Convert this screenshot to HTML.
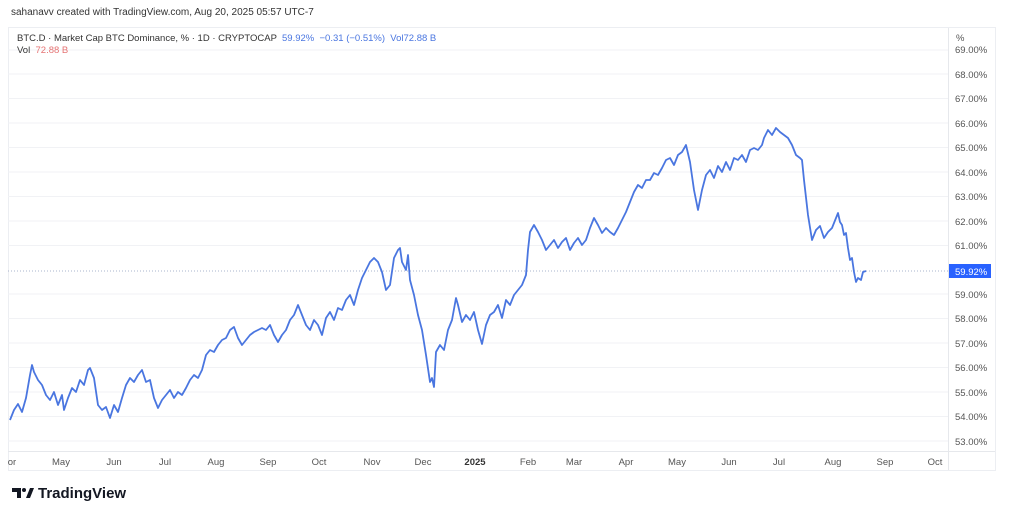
<!DOCTYPE html>
<html><head><meta charset="utf-8"><style>
body{margin:0;width:1024px;height:509px;background:#fff;font-family:"Liberation Sans",sans-serif;overflow:hidden;position:relative}
.t{position:absolute;white-space:nowrap}
</style></head><body>
<div class="t" style="left:11px;top:7px;font-size:10px;color:#333">sahanavv created with TradingView.com, Aug 20, 2025 05:57 UTC-7</div>
<svg width="1024" height="509" style="position:absolute;left:0;top:0">
<rect x="8.5" y="27.5" width="987" height="443" fill="none" stroke="#eceef2"/>
<line x1="948.5" y1="28" x2="948.5" y2="470" stroke="#e6e8ec"/>
<line x1="8" y1="451.5" x2="995" y2="451.5" stroke="#e6e8ec"/>
<g stroke="#f1f2f5">
<line x1="8" x2="948" y1="50" y2="50"/><line x1="8" x2="948" y1="74" y2="74"/><line x1="8" x2="948" y1="98.5" y2="98.5"/><line x1="8" x2="948" y1="123" y2="123"/><line x1="8" x2="948" y1="147.5" y2="147.5"/><line x1="8" x2="948" y1="172" y2="172"/><line x1="8" x2="948" y1="196.5" y2="196.5"/><line x1="8" x2="948" y1="221" y2="221"/><line x1="8" x2="948" y1="245.5" y2="245.5"/><line x1="8" x2="948" y1="294" y2="294"/><line x1="8" x2="948" y1="318.5" y2="318.5"/><line x1="8" x2="948" y1="343" y2="343"/><line x1="8" x2="948" y1="367.5" y2="367.5"/><line x1="8" x2="948" y1="392" y2="392"/><line x1="8" x2="948" y1="416.5" y2="416.5"/><line x1="8" x2="948" y1="441" y2="441"/>
</g>
<line x1="8" x2="948" y1="271" y2="271" stroke="#aab4cc" stroke-dasharray="1,2"/>
<polyline fill="none" stroke="#4a76e0" stroke-width="1.8" stroke-linejoin="round" points="10,420 14,410 18,404 22,412 26,398 30,375 32,365 34,372 38,380 42,385 46,395 50,400 54,392 58,405 62,395 64,410 68,398 72,388 76,392 80,380 84,385 88,370 90,368 94,378 98,405 102,410 106,407 110,418 114,405 118,412 122,398 126,385 130,378 134,382 138,375 142,370 146,382 150,380 154,398 158,408 162,400 166,395 170,390 174,398 178,392 182,395 186,388 190,380 194,375 198,378 202,370 206,355 210,350 214,352 218,345 222,340 226,338 230,330 234,327 238,338 242,345 246,340 250,335 254,332 258,330 262,328 266,330 270,325 274,335 278,342 282,335 286,330 290,320 294,315 298,305 302,315 306,325 310,330 314,320 318,325 322,335 326,318 330,312 334,320 338,308 342,310 346,300 350,295 354,305 358,290 362,278 366,270 370,262 374,258 378,262 382,272 386,290 390,285 394,258 398,250 400,248 402,262 406,270 408,255 410,280 414,295 418,315 422,330 426,355 430,382 432,378 434,387 436,352 440,345 444,350 448,330 452,320 456,298 458,305 462,322 466,315 470,320 474,312 478,330 482,344 486,325 490,315 494,312 498,305 502,318 506,300 510,305 514,295 518,290 522,285 526,275 528,250 530,232 534,225 538,232 542,240 546,250 550,245 554,240 558,248 562,242 566,238 570,250 574,243 578,238 582,245 586,240 590,228 594,218 598,225 602,233 606,228 610,232 614,235 618,228 622,220 626,212 630,202 634,192 638,185 642,188 646,180 650,180 654,173 658,175 662,168 666,160 670,158 674,165 678,155 682,152 686,145 690,162 694,190 698,210 702,190 706,175 710,170 714,178 718,166 722,172 726,162 730,170 734,158 738,160 742,155 746,162 750,150 754,148 758,150 762,145 764,138 768,130 772,135 776,128 780,132 784,135 788,138 792,145 796,155 800,158 802,160 804,180 808,215 812,240 816,230 820,226 824,238 828,232 832,228 836,218 838,213 840,222 842,225 844,235 846,233 848,248 850,260 852,258 854,272 856,282 858,278 861,280 863,272 866,271"/>
<rect x="949" y="264" width="42" height="14" fill="#2962ff"/>
<g font-size="9.5" fill="#555" font-family="Liberation Sans, sans-serif">
<text x="956" y="41">%</text>
<text x="955" y="53">69.00%</text><text x="955" y="78">68.00%</text><text x="955" y="102">67.00%</text><text x="955" y="127">66.00%</text><text x="955" y="151">65.00%</text><text x="955" y="176">64.00%</text><text x="955" y="200">63.00%</text><text x="955" y="225">62.00%</text><text x="955" y="249">61.00%</text><text x="955" y="275" fill="#fff">59.92%</text><text x="955" y="298">59.00%</text><text x="955" y="322">58.00%</text><text x="955" y="347">57.00%</text><text x="955" y="371">56.00%</text><text x="955" y="396">55.00%</text><text x="955" y="420">54.00%</text><text x="955" y="445">53.00%</text>
</g>
<g font-size="9.5" fill="#555" text-anchor="middle" font-family="Liberation Sans, sans-serif">
<text x="12" y="465">or</text><text x="61" y="465">May</text><text x="114" y="465">Jun</text><text x="165" y="465">Jul</text><text x="216" y="465">Aug</text><text x="268" y="465">Sep</text><text x="319" y="465">Oct</text><text x="372" y="465">Nov</text><text x="423" y="465">Dec</text><text x="475" y="465" font-weight="bold" fill="#333">2025</text><text x="528" y="465">Feb</text><text x="574" y="465">Mar</text><text x="626" y="465">Apr</text><text x="677" y="465">May</text><text x="729" y="465">Jun</text><text x="779" y="465">Jul</text><text x="833" y="465">Aug</text><text x="885" y="465">Sep</text><text x="935" y="465">Oct</text>
</g>
<path d="M12 488h9v10h-4v-6h-5z" fill="#131722"/><circle cx="24" cy="490" r="2" fill="#131722"/><path d="M26 498l4-10h4l-4 10z" fill="#131722"/>
</svg>
<div class="t" style="left:17px;top:33px;font-size:9.5px;color:#333">BTC.D · Market Cap BTC Dominance, % · 1D · CRYPTOCAP <span style="color:#4a76e0">&nbsp;59.92% &nbsp;−0.31 (−0.51%) &nbsp;Vol72.88 B</span></div>
<div class="t" style="left:17px;top:45px;font-size:9.5px;color:#333">Vol <span style="color:#e57373">&nbsp;72.88 B</span></div>
<div class="t" style="left:38px;top:485px;font-size:15px;font-weight:bold;color:#131722">TradingView</div>
</body></html>
